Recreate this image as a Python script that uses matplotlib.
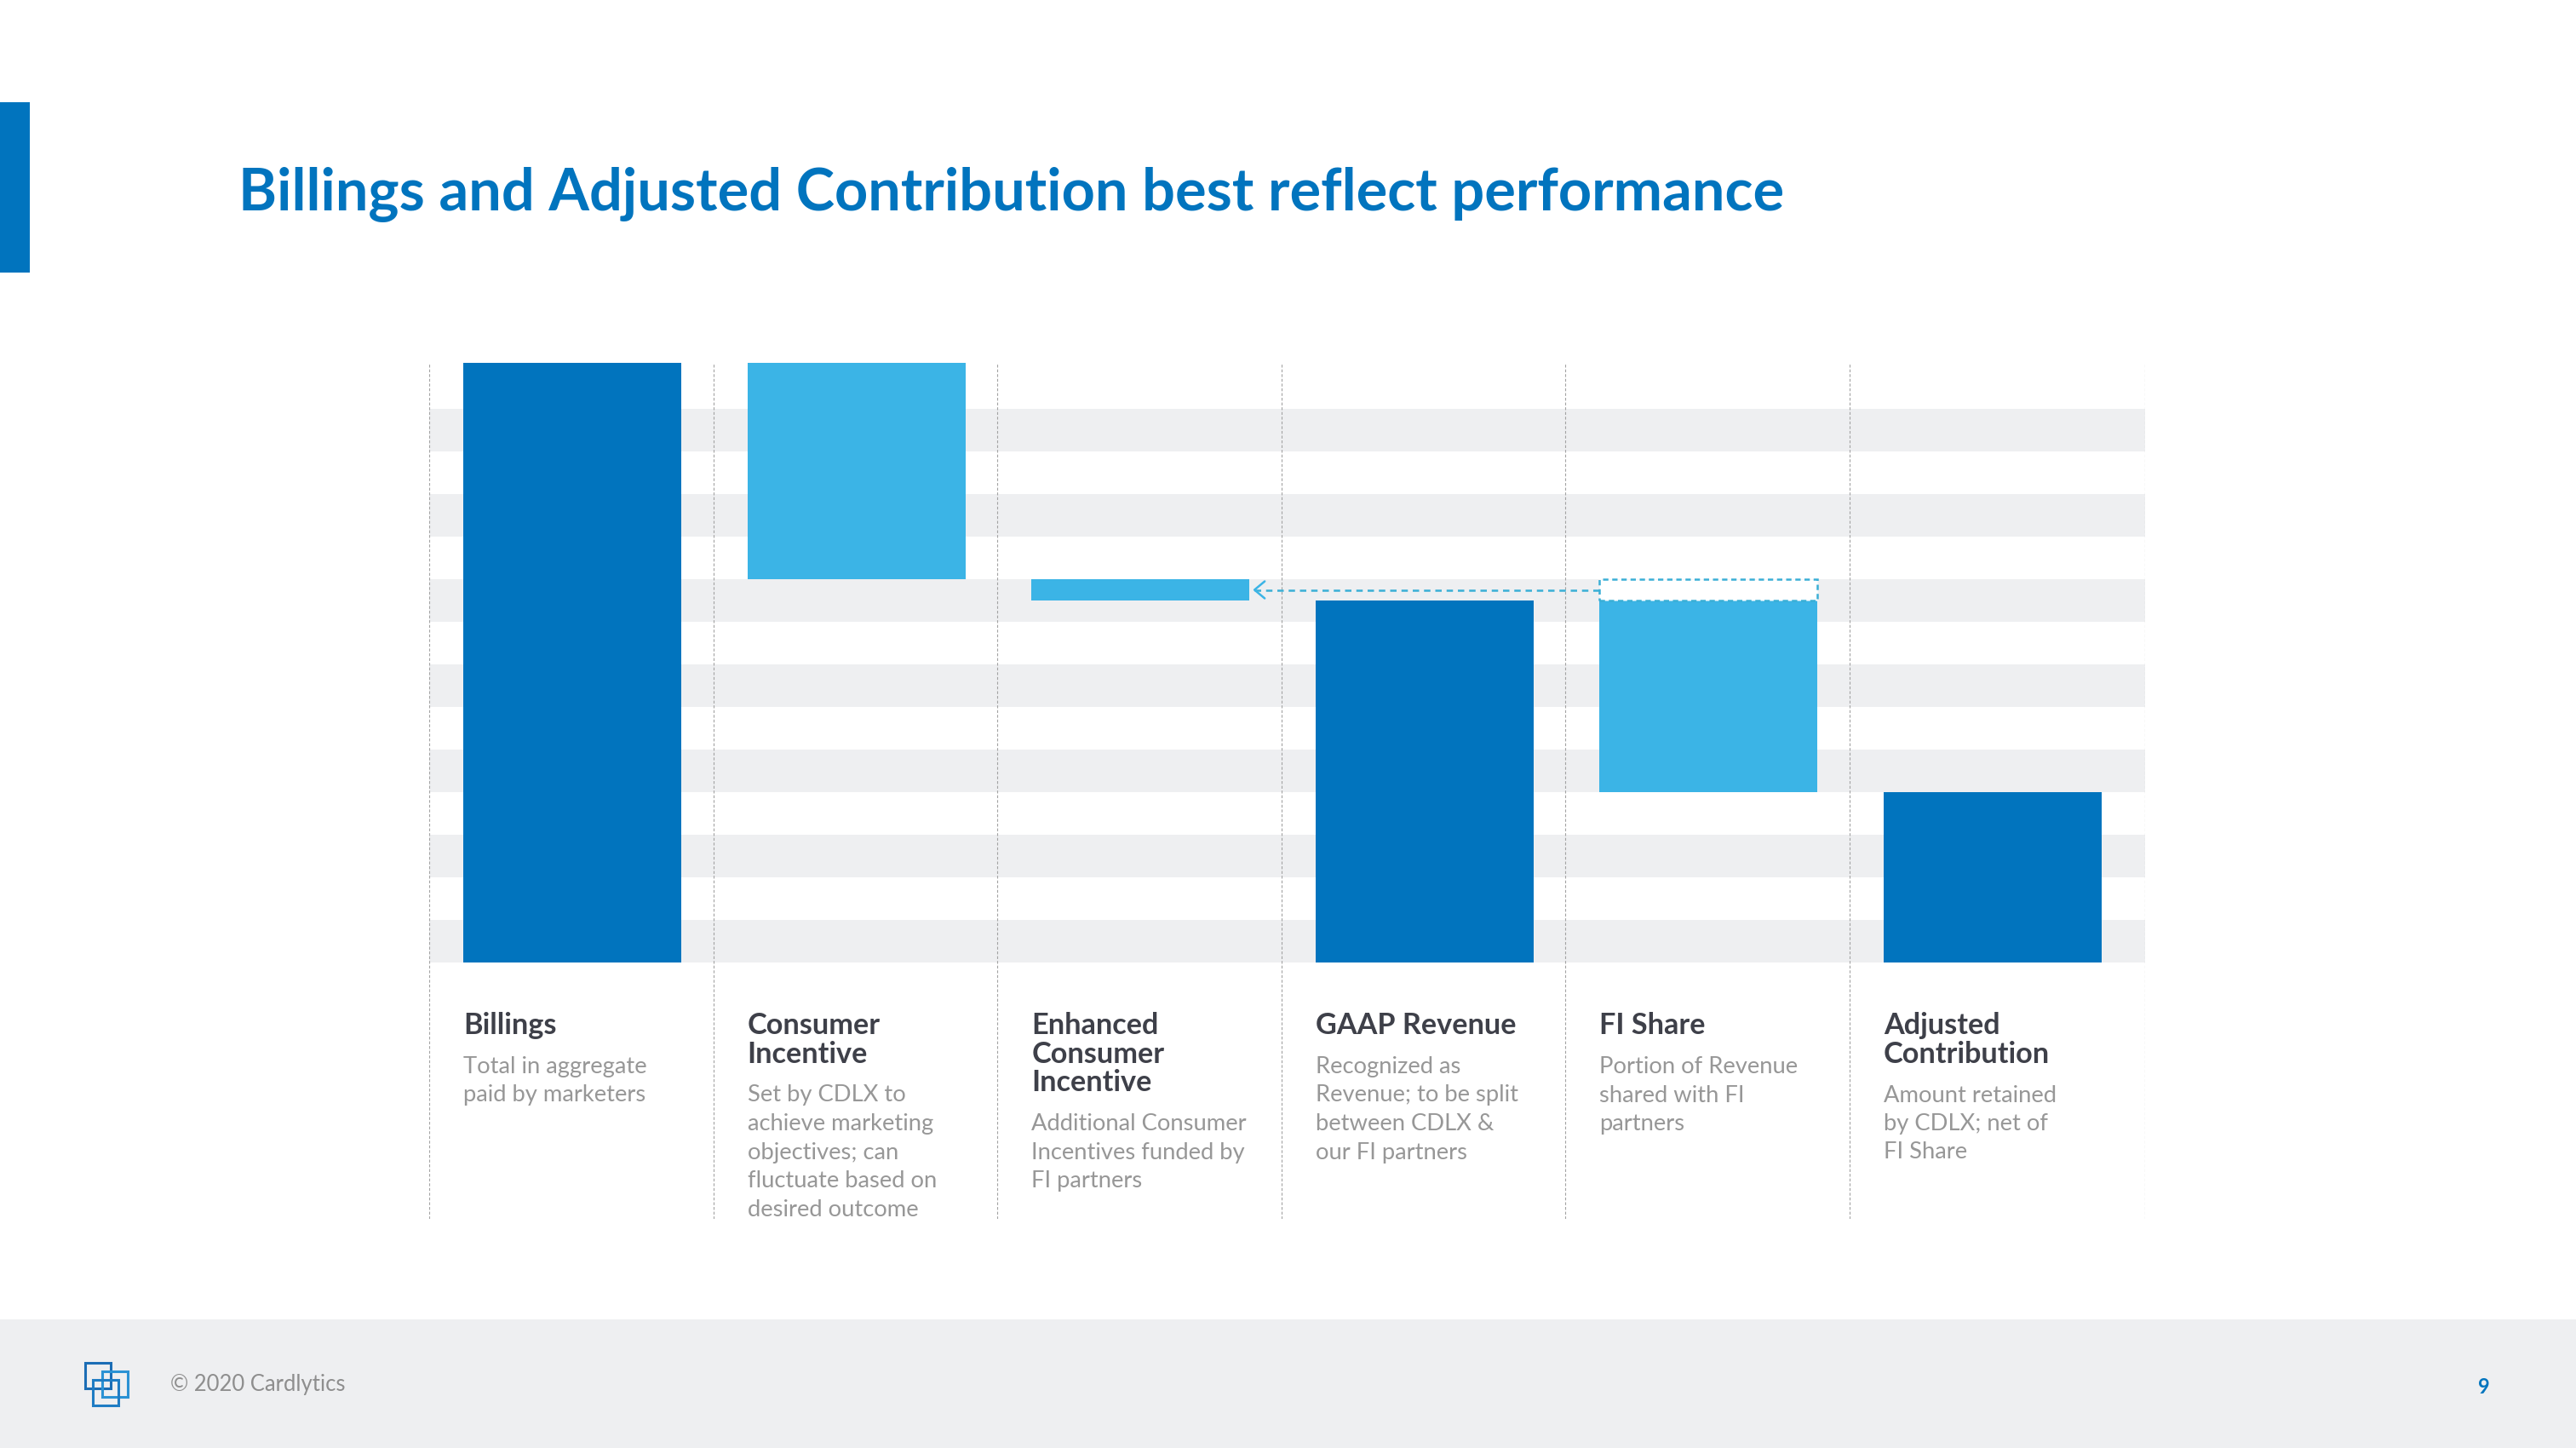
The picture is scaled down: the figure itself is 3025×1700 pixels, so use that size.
import numpy as np
import matplotlib
matplotlib.use("Agg")
import matplotlib.pyplot as plt
from matplotlib.patches import Rectangle
from matplotlib.textpath import TextPath
from matplotlib.font_manager import FontProperties

# waterfall data (units = one grid band)
steps = [14.08, -5.08, -0.5, 8.5, -4.5, 4.0]
is_total = [True, False, False, True, False, True]
fi_funded = 0.5   # part of FI Share that funds the enhanced incentive

headings = [["Billings"],
            ["Consumer", "Incentive"],
            ["Enhanced", "Consumer", "Incentive"],
            ["GAAP Revenue"],
            ["FI Share"],
            ["Adjusted", "Contribution"]]
descs = [["Total in aggregate", "paid by marketers"],
         ["Set by CDLX to", "achieve marketing", "objectives; can", "fluctuate based on", "desired outcome"],
         ["Additional Consumer", "Incentives funded by", "FI partners"],
         ["Recognized as", "Revenue; to be split", "between CDLX &", "our FI partners"],
         ["Portion of Revenue", "shared with FI", "partners"],
         ["Amount retained", "by CDLX; net of", "FI Share"]]

title = "Billings and Adjusted Contribution best reflect performance"

DARK = "#0174BE"
LIGHT = "#3BB4E6"
DASH = "#3AAFD6"
BAND = "#EEEFF1"
HEAD = "#3E4049"
GREY = "#979797"
FONT = "Lato"

W, H = 3025, 1700


def fit(text, target_px, weight="normal", family=FONT):
    fp = FontProperties(family=family, weight=weight)
    w = TextPath((0, 0), text, size=100, prop=fp).get_extents().width
    return target_px * 72 / w


fig = plt.figure(figsize=(W / 100, H / 100), dpi=100)
fig.patch.set_facecolor("white")

page = fig.add_axes([0, 0, 1, 1])
page.set_xlim(0, W)
page.set_ylim(H, 0)
page.axis("off")

# accent bar + footer
page.add_patch(Rectangle((0, 120), 35, 200, color=DARK, lw=0))
page.add_patch(Rectangle((0, 1549), W, 151, color=BAND, lw=0))

page.text(280, 247, title, fontsize=fit(title, 1807, "bold"), fontweight="bold",
          family=FONT, color=DARK, va="baseline", ha="left")

# logo
for (x0, y0), c in zip([(100, 1600), (120, 1610), (109, 1620)],
                       ["#1B6DB5", "#2B92D4", "#1E7CC4"]):
    page.add_patch(Rectangle((x0, y0), 30, 30, fill=False, edgecolor=c, lw=2.2))
copy = "\u00a9 2020 Cardlytics"
page.text(200, 1633, copy, fontsize=fit(copy, 203), family=FONT, color="#8E8E8E",
          va="baseline", ha="left")
page.text(2917, 1629, "9", fontsize=17, family=FONT, fontweight="bold", color=DARK,
          va="center", ha="center")

# chart
ax = fig.add_axes([504 / W, (H - 1431) / H, (2519 - 504) / W, (1431 - 426) / H])
ax.set_xlim(0, 6.04)
ax.set_ylim(-6.02, 14.08)
ax.axis("off")
ax.patch.set_alpha(0)

for k in range(7):
    ax.axhspan(2 * k, 2 * k + 1, color=BAND, lw=0, zorder=0)
for e in [0, 1, 2, 3, 4, 5, 6.04]:
    ax.plot([e, e], [-6.02, 14.08], color="#A3A3A3", lw=0.8, ls=(0, (3, 2)), zorder=1)

bottoms, tops = [], []
run = 0
for v, t in zip(steps, is_total):
    if t:
        bottoms.append(0)
        tops.append(v)
        run = v
    else:
        tops.append(run)
        run = run + v
        bottoms.append(run)
bottoms = np.array(bottoms)
tops = np.array(tops)
xs = np.arange(len(steps))
off, bw = 0.12, 0.767
colors = [DARK if t else LIGHT for t in is_total]
ax.bar(xs + off, tops - bottoms, bottom=bottoms, width=bw, align="edge",
       color=colors, lw=0, zorder=2)

# dashed box on FI Share and arrow back to enhanced incentive
fi = 4
ax.add_patch(Rectangle((fi + off, tops[fi]), bw, fi_funded, facecolor="white",
                       edgecolor=DASH, lw=1.8, ls=(0, (2.5, 1.8)), zorder=3))
ya = tops[fi] + fi_funded / 2
x_end = 2 + off + bw + 0.018
ax.plot([fi + off, x_end], [ya, ya], color=DASH, lw=1.8, ls=(0, (3, 2.3)), zorder=3)
ax.plot([x_end + 0.036, x_end, x_end + 0.036], [ya - 0.2, ya, ya + 0.2],
        color=LIGHT, lw=1.8, zorder=3, solid_capstyle="round")

# labels under columns
hs = fit("GAAP Revenue", 233, "bold")
ds = fit("Additional Consumer", 253)
lh = 33.5


def yd(px):
    return (1130 - px) / 50


for i in range(len(steps)):
    for k, line in enumerate(headings[i]):
        ax.text(i + off, yd(1214 + k * lh), line, fontsize=hs, fontweight="bold",
                family=FONT, color=HEAD, va="baseline", ha="left")
    y0 = 1260 + (len(headings[i]) - 1) * lh
    for k, line in enumerate(descs[i]):
        ax.text(i + off, yd(y0 + k * lh), line, fontsize=ds, family=FONT,
                color=GREY, va="baseline", ha="left")

fig.savefig("out.png", dpi=100, facecolor="white")
